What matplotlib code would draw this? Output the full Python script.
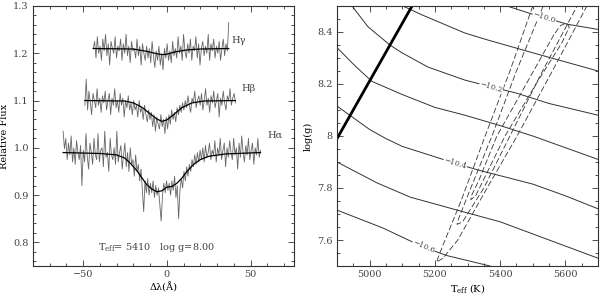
import numpy as np
import matplotlib
matplotlib.use('Agg')
import matplotlib.pyplot as plt
from matplotlib.ticker import MultipleLocator

plt.rcParams['font.family'] = ['DejaVu Serif']
plt.rcParams['mathtext.fontset'] = 'dejavuserif'
plt.rcParams['font.size'] = 7
plt.rcParams['text.color'] = '#444444'
plt.rcParams['axes.edgecolor'] = '#333333'
plt.rcParams['xtick.color'] = '#333333'
plt.rcParams['ytick.color'] = '#333333'
plt.rcParams['xtick.labelcolor'] = '#444444'
plt.rcParams['ytick.labelcolor'] = '#444444'

ha_flux = [1.035, 0.998, 1.02, 0.975, 1.01, 0.985, 1.025, 0.97, 1.0, 0.965, 1.015, 0.99, 0.975,
           1.005, 0.92, 0.995, 0.97, 1.03, 0.98, 0.955, 1.01, 0.99, 0.965, 1.02, 0.985, 0.975,
           1.03, 0.97, 0.995, 1.0, 0.96, 1.035, 0.98, 0.99, 0.95, 1.02, 0.985, 0.975,
           1.0, 0.965, 1.035, 0.97, 0.99, 1.005, 0.955, 0.985, 1.01, 0.96,
           0.99, 0.95, 1.0, 0.965, 0.975, 0.94, 0.985, 0.95,
           0.965, 0.93, 0.955, 0.91, 0.865, 0.93, 0.905,
           0.935, 0.9, 0.925, 0.905, 0.93, 0.895, 0.92, 0.9,
           0.915, 0.88, 0.845, 0.9, 0.925, 0.905, 0.93, 0.91,
           0.925, 0.9, 0.93, 0.91, 0.94, 0.895, 0.92, 0.85,
           0.91, 0.935, 0.915, 0.95, 0.93, 0.96, 0.94, 0.965,
           0.95, 0.975, 0.96, 0.985, 0.965, 0.99, 0.97, 0.995,
           0.975, 1.0, 0.97, 1.005, 0.98, 0.99, 1.01, 0.975, 0.995, 0.985, 1.015, 0.97,
           1.0, 0.985, 1.02, 0.975, 0.995, 1.01, 0.96, 1.0, 0.98, 1.015, 0.99, 0.975,
           1.02, 0.985, 1.0, 0.955, 1.01, 0.98, 1.025, 0.99, 0.97, 1.005, 0.985, 1.02,
           0.975, 0.995, 1.01, 0.965, 1.0, 0.985, 1.02, 0.98, 0.995]
hb_flux = [1.09, 1.145, 1.08, 1.12, 1.095, 1.07, 1.115, 1.1, 1.085, 1.125, 1.09, 1.105,
           1.075, 1.11, 1.095, 1.12, 1.08, 1.1, 1.115, 1.07, 1.105, 1.09, 1.125, 1.085,
           1.1, 1.075, 1.115, 1.09, 1.105, 1.065, 1.1, 1.085, 1.11, 1.08, 1.095, 1.07,
           1.1, 1.08, 1.09, 1.065, 1.1, 1.075, 1.085, 1.06, 1.09, 1.07, 1.055, 1.08,
           1.06, 1.075, 1.045, 1.07, 1.035, 1.065, 1.05, 1.04, 1.07, 1.045, 1.06, 1.03,
           1.065, 1.04, 1.07, 1.05, 1.08, 1.06, 1.075, 1.055, 1.085, 1.07, 1.09, 1.075,
           1.095, 1.08, 1.1, 1.085, 1.11, 1.09, 1.075, 1.105, 1.095, 1.12, 1.085, 1.1,
           1.11, 1.09, 1.115, 1.08, 1.1, 1.125, 1.09, 1.105, 1.075, 1.11, 1.095, 1.12,
           1.085, 1.1, 1.115, 1.065, 1.105, 1.09, 1.12, 1.095, 1.08, 1.11, 1.1, 1.125,
           1.09, 1.105, 1.115, 1.095]
hg_flux = [1.21, 1.225, 1.19, 1.235, 1.2, 1.215, 1.185, 1.23, 1.205, 1.24,
           1.195, 1.22, 1.175, 1.225, 1.21, 1.2, 1.235, 1.19, 1.215, 1.205,
           1.23, 1.185, 1.22, 1.2, 1.24, 1.195, 1.215, 1.18, 1.225, 1.205,
           1.21, 1.19, 1.23, 1.195, 1.215, 1.175, 1.22, 1.2, 1.185, 1.215,
           1.19, 1.21, 1.18, 1.225, 1.195, 1.17, 1.205, 1.185, 1.215, 1.175,
           1.2, 1.165, 1.21, 1.19, 1.22, 1.185, 1.205, 1.18, 1.225, 1.195,
           1.21, 1.19, 1.235, 1.2, 1.215, 1.185, 1.24, 1.205, 1.19, 1.22,
           1.2, 1.23, 1.185, 1.215, 1.205, 1.235, 1.19, 1.22, 1.175, 1.21,
           1.225, 1.195, 1.215, 1.2, 1.24, 1.185, 1.22, 1.205, 1.23, 1.19,
           1.215, 1.2, 1.225, 1.185, 1.21, 1.23, 1.195, 1.22, 1.205, 1.265]
ha_range = (-62, 56)
hb_range = (-49, 41)
hg_range = (-44, 37)

# model profiles
ha_mx = [-62, -40, -30, -25, -22, -18, -15, -12, -9, -6, -3, 0, 3, 6, 9, 12, 16, 20, 25, 35, 56]
ha_my = [0.99, 0.988, 0.985, 0.978, 0.968, 0.952, 0.937, 0.922, 0.913, 0.907, 0.909, 0.917, 0.918,
         0.925, 0.936, 0.95, 0.965, 0.975, 0.982, 0.987, 0.99]
hb_mx = [-49, -25, -20, -15, -10, -6, -3, 0, 4, 9, 15, 22, 41]
hb_my = [1.10, 1.099, 1.095, 1.086, 1.072, 1.061, 1.056, 1.059, 1.07, 1.085, 1.095, 1.099, 1.10]
hg_mx = [-44, -20, -12, -6, -3, 0, 5, 12, 20, 37]
hg_my = [1.21, 1.209, 1.204, 1.199, 1.197, 1.198, 1.203, 1.207, 1.209, 1.21]

# ---- right panel: iso-contours (Teff, log g)
iso_levels = ['-10.0', '-10.1', '-10.2', '-10.3', '-10.4', '-10.5', '-10.6']
iso_t = [[5421, 5500, 5560, 5605, 5700],
         [5102, 5160, 5292, 5360, 5500, 5600, 5700],
         [4946, 4995, 5062, 5099, 5179, 5292, 5369, 5450, 5550, 5700],
         [4900, 4955, 5007, 5099, 5200, 5292, 5400, 5500, 5600, 5700],
         [4900, 4950, 5000, 5050, 5100, 5200, 5250, 5330, 5500, 5600, 5700],
         [4900, 5022, 5124, 5268, 5400, 5550, 5700],
         [4900, 5041, 5164, 5237, 5369]]
iso_g = [[8.5, 8.468, 8.447, 8.43, 8.41],
         [8.5, 8.466, 8.396, 8.37, 8.32, 8.285, 8.25],
         [8.5, 8.42, 8.35, 8.32, 8.265, 8.215, 8.19, 8.165, 8.125, 8.08],
         [8.34, 8.27, 8.21, 8.16, 8.11, 8.08, 8.04, 8.0, 7.955, 7.91],
         [8.115, 8.07, 8.025, 7.99, 7.96, 7.92, 7.90, 7.87, 7.815, 7.77, 7.72],
         [7.90, 7.82, 7.765, 7.715, 7.67, 7.60, 7.53],
         [7.715, 7.646, 7.573, 7.54, 7.50]]
label_pos = {'-10.0': (5535, 8.455, -17), '-10.2': (5372, 8.188, -16),
             '-10.4': (5262, 7.895, -17), '-10.6': (5165, 7.573, -23)}

# confidence contours (dashed)
conf_t = [[5500, 5430, 5354, 5280, 5215, 5205, 5225, 5270, 5360, 5452, 5560, 5666],
          [5532, 5450, 5375, 5310, 5272, 5268, 5285, 5350, 5430, 5530, 5636],
          [5565, 5480, 5390, 5335, 5312, 5310, 5325, 5415, 5510, 5590, 5612, 5604, 5585, 5565]]
conf_g = [[8.5, 8.25, 8.0, 7.75, 7.55, 7.515, 7.53, 7.6, 7.8, 8.0, 8.25, 8.5],
          [8.5, 8.25, 8.0, 7.8, 7.68, 7.66, 7.67, 7.8, 8.0, 8.25, 8.5],
          [8.39, 8.2, 8.0, 7.83, 7.77, 7.755, 7.77, 8.0, 8.2, 8.36, 8.42, 8.435, 8.425, 8.39]]

mr_t = [4900, 5130]
mr_g = [7.99, 8.5]

fig = plt.figure(figsize=(6, 2.95), dpi=100)
ax1 = fig.add_axes([0.055, 0.0983, 0.435, 0.8814])
ax2 = fig.add_axes([0.5617, 0.0983, 0.435, 0.8814])

for flux, rng in [(ha_flux, ha_range), (hb_flux, hb_range), (hg_flux, hg_range)]:
    x = np.linspace(rng[0], rng[1], len(flux))
    ax1.plot(x, flux, color='#666666', lw=0.6)
for mx, my in [(ha_mx, ha_my), (hb_mx, hb_my), (hg_mx, hg_my)]:
    ax1.plot(mx, my, color='black', lw=0.9)

ax1.text(38.5, 1.228, 'Hγ', fontsize=7, va='center')
ax1.text(44.5, 1.126, 'Hβ', fontsize=7, va='center')
ax1.text(60, 1.027, 'Hα', fontsize=7, va='center')
ax1.text(-41, 0.789, r'T$_{\rm eff}$= 5410   log g=8.00', fontsize=7, va='center')

ax1.set_xlim(-80, 76)
ax1.set_ylim(0.75, 1.3)
ax1.xaxis.set_major_locator(MultipleLocator(50))
ax1.xaxis.set_minor_locator(MultipleLocator(10))
ax1.yaxis.set_major_locator(MultipleLocator(0.1))
ax1.yaxis.set_minor_locator(MultipleLocator(0.02))
ax1.set_xlabel('Δλ(Å)', labelpad=2)
ax1.set_ylabel('Relative Flux', labelpad=3)

for t, g, lev in zip(iso_t, iso_g, iso_levels):
    ax2.plot(t, g, color='#333333', lw=0.7)
for lev, (lt, lg, rot) in label_pos.items():
    ax2.text(lt, lg, '\u2212' + lev[1:], fontsize=5.5, rotation=rot, ha='center', va='center',
             bbox=dict(facecolor='white', edgecolor='none', pad=0.3))
for t, g in zip(conf_t, conf_g):
    ax2.plot(t, g, color='#333333', lw=0.6, ls=(0, (7, 3)))
ax2.plot(mr_t, mr_g, color='black', lw=2)

ax2.set_xlim(4900, 5700)
ax2.set_ylim(7.5, 8.5)
ax2.xaxis.set_major_locator(MultipleLocator(200))
ax2.xaxis.set_minor_locator(MultipleLocator(50))
ax2.yaxis.set_minor_locator(MultipleLocator(0.05))
ax2.set_yticks([7.6, 7.8, 8.0, 8.2, 8.4])
ax2.set_yticklabels(['7.6', '7.8', '8', '8.2', '8.4'])
ax2.set_xlabel(r'T$_{\rm eff}$ (K)', labelpad=2)
ax2.set_ylabel('log(g)', labelpad=3)

for ax in (ax1, ax2):
    ax.tick_params(which='both', direction='in', top=True, right=True, width=0.6, pad=3)
    ax.tick_params(which='major', length=4)
    ax.tick_params(which='minor', length=2)
    for s in ax.spines.values():
        s.set_linewidth(0.8)

fig.savefig('out.png', dpi=100)
